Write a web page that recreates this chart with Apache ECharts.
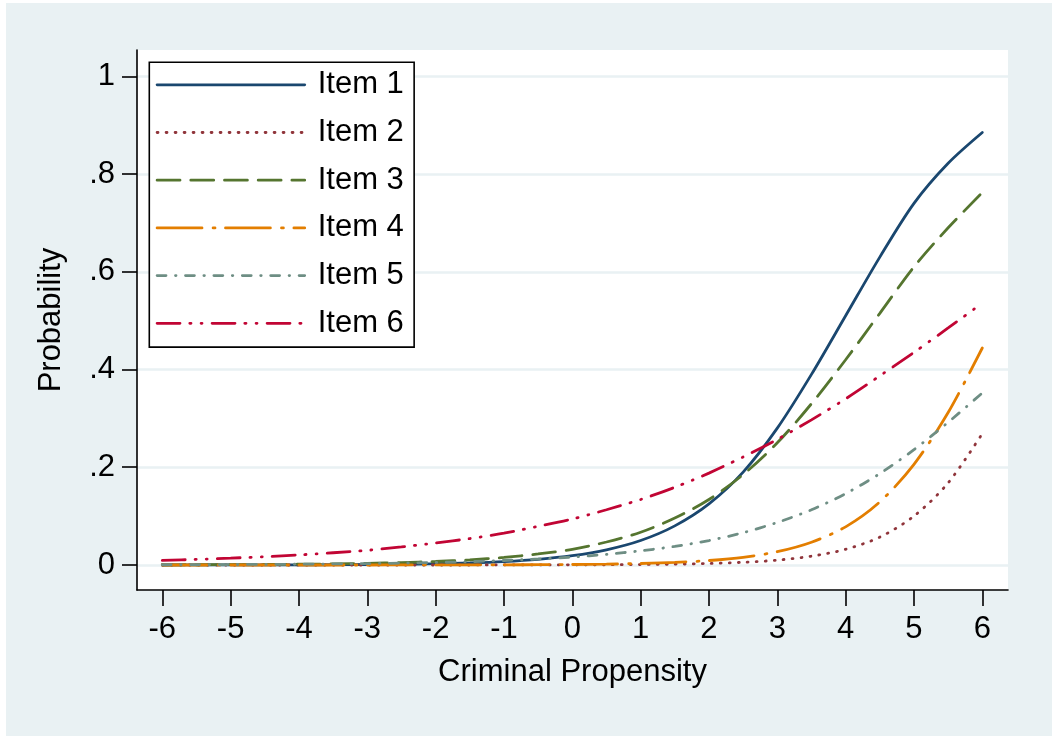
<!DOCTYPE html>
<html>
<head>
<meta charset="utf-8">
<title>Item characteristic curves</title>
<script src="https://cdn.jsdelivr.net/npm/echarts@6/dist/echarts.min.js"></script>
<style>
  html, body { margin: 0; padding: 0; background: #ffffff; }
  #chart { position: absolute; left: 6px; top: 3px; width: 1046px; height: 733px; }
</style>
</head>
<body>
<div id="chart"></div>
<script>
// Latent trait values (criminal propensity) at which each curve is sampled
const propensity = [-6, -5.5, -5, -4.5, -4, -3.5, -3, -2.5, -2, -1.5, -1, -0.5, 0,
                    0.5, 1, 1.5, 2, 2.5, 3, 3.5, 4, 4.5, 5, 5.5, 6];

// Probability of endorsing each item
const item1 = [0.0000, 0.0001, 0.0001, 0.0002, 0.0004, 0.0006, 0.0010, 0.0016, 0.0026, 0.0043, 0.0070, 0.0115, 0.019,
               0.031, 0.050, 0.080, 0.125, 0.190, 0.280, 0.390, 0.510, 0.630, 0.740, 0.822, 0.885];
const item2 = [0, 0, 0, 0, 0, 0, 0, 0, 0, 0, 0.0001, 0.0001, 0.0003,
               0.0005, 0.0009, 0.0017, 0.0030, 0.0055, 0.0099, 0.018, 0.032, 0.057, 0.100, 0.168, 0.269];
const item3 = [0.0003, 0.0005, 0.0007, 0.0010, 0.0015, 0.0022, 0.0033, 0.0049, 0.0071, 0.0105, 0.0154, 0.0225, 0.032,
               0.047, 0.067, 0.096, 0.134, 0.185, 0.250, 0.330, 0.420, 0.515, 0.610, 0.690, 0.762];
const item4 = [0, 0, 0, 0, 0, 0, 0, 0.0001, 0.0001, 0.0002, 0.0003, 0.0006, 0.0010,
               0.0017, 0.0030, 0.0052, 0.0091, 0.0157, 0.0272, 0.0466, 0.078, 0.129, 0.206, 0.312, 0.444];
const item5 = [0.0005, 0.0007, 0.0009, 0.0012, 0.0016, 0.0021, 0.0029, 0.0038, 0.0051, 0.0068, 0.0092, 0.0123, 0.0163,
               0.0217, 0.029, 0.038, 0.050, 0.066, 0.087, 0.113, 0.146, 0.187, 0.236, 0.292, 0.352];
const item6 = [0.0094, 0.0114, 0.0140, 0.0170, 0.0206, 0.0250, 0.0300, 0.0370, 0.0450, 0.0540, 0.0650, 0.0790, 0.094,
               0.113, 0.134, 0.159, 0.188, 0.221, 0.257, 0.297, 0.340, 0.387, 0.435, 0.485, 0.536];

const itemNames = ['Item 1', 'Item 2', 'Item 3', 'Item 4', 'Item 5', 'Item 6'];

// Axis ticks
const xTicks = [-6, -5, -4, -3, -2, -1, 0, 1, 2, 3, 4, 5, 6];
const yTicks = [0, 0.2, 0.4, 0.6, 0.8, 1];

const FONT = '"Liberation Sans", Arial, Helvetica, sans-serif';
const BG = '#E9F1F3';
const LINE_W = 2.8;

// Stata-like line styles: colour and dash pattern per item (round caps)
const styles = [
  { color: '#1A476F', type: 'solid' },
  { color: '#90353B', type: [0.9, 8.1] },
  { color: '#55752F', type: [22.9, 10.8] },
  { color: '#E37E00', type: [44.9, 11.1, 1.9, 10.5] },
  { color: '#6E8E84', type: [8.9, 9.5, 0.5, 9.5] },
  { color: '#C10534', type: [22.9, 9.8, 1.2, 10.1, 0.9, 10.1] }
];

const values = [item1, item2, item3, item4, item5, item6];

const series = values.map((vals, i) => ({
  name: itemNames[i],
  type: 'line',
  data: propensity.map((x, j) => [x, vals[j]]),
  symbol: 'none',
  smooth: 0.3,
  lineStyle: { color: styles[i].color, width: LINE_W, type: styles[i].type, cap: 'round' },
  itemStyle: { color: styles[i].color },
  z: 3 + i
}));

const chart = echarts.init(document.getElementById('chart'), null, { renderer: 'canvas' });

chart.setOption({
  animation: false,
  backgroundColor: BG,
  textStyle: { fontFamily: FONT },
  grid: {
    left: 131, top: 47, right: 44, bottom: 146,
    show: true, backgroundColor: '#ffffff', borderWidth: 0,
    containLabel: false
  },
  legend: {
    orient: 'vertical',
    left: 143.3, top: 59.3,
    padding: [7, 10.3, 8.3, 6.4],
    itemWidth: 147.6,
    itemHeight: 30,
    itemGap: 16.7,
    backgroundColor: '#ffffff',
    borderColor: '#000000',
    borderWidth: 1.6,
    borderRadius: 0,
    itemStyle: { opacity: 0 },
    lineStyle: { width: LINE_W },
    textStyle: { fontFamily: FONT, fontSize: 31, color: '#000000', lineHeight: 30, padding: [0, 0, 0, 8] },
    data: itemNames
  },
  xAxis: {
    type: 'value',
    min: -6.370, max: 6.376,
    name: 'Criminal Propensity',
    nameLocation: 'middle',
    nameGap: 67,
    nameTextStyle: { fontFamily: FONT, fontSize: 31, color: '#000000' },
    axisLine: { show: true, onZero: false, lineStyle: { color: '#000000', width: 1.6 } },
    axisTick: { show: true, inside: false, length: 16, customValues: xTicks,
                lineStyle: { color: '#000000', width: 1.6 } },
    axisLabel: { customValues: xTicks, margin: 24, fontFamily: FONT, fontSize: 31, color: '#000000' },
    splitLine: { show: false }
  },
  yAxis: {
    type: 'value',
    min: -0.0512, max: 1.0538,
    name: 'Probability',
    nameLocation: 'middle',
    nameGap: 70,
    nameTextStyle: { fontFamily: FONT, fontSize: 31, color: '#000000' },
    axisLine: { show: true, onZero: false, lineStyle: { color: '#000000', width: 1.6 } },
    axisTick: { show: true, inside: false, length: 15, customValues: yTicks,
                lineStyle: { color: '#000000', width: 1.6 } },
    axisLabel: {
      customValues: yTicks, margin: 22, fontFamily: FONT, fontSize: 31, color: '#000000',
      formatter: v => (v === 0 ? '0' : v === 1 ? '1' : String(+v.toFixed(1)).replace(/^0\./, '.'))
    },
    splitLine: { show: true, lineStyle: { color: BG, width: 2.6 } }
  },
  series: series
});
</script>
</body>
</html>
